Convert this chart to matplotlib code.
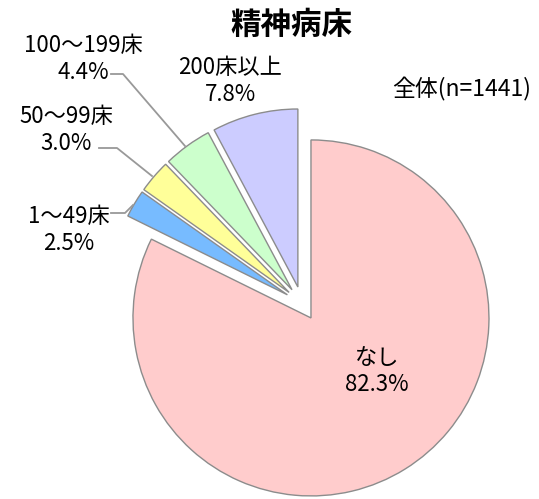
import numpy as np
import matplotlib.pyplot as plt

plt.rcParams['font.family'] = ['Noto Sans CJK JP', 'DejaVu Sans']

# data (clockwise from 12 o'clock)
categories = ['なし', '1～49床', '50～99床', '100～199床', '200床以上']
shares = [82.3, 2.5, 3.0, 4.4, 7.8]
colors = ['#FFCCCC', '#77BBFF', '#FFFF99', '#CCFFCC', '#CCCCFF']
title = '精神病床'
note = '全体(n=1441)'

W, H = 539, 499
fig = plt.figure(figsize=(W / 100, H / 100), dpi=100)
ax = fig.add_axes([0, 0, 1, 1])

# work in pixel-like coords, y up
def P(x, y):
    return x, H - y

cx, cy = P(302, 303.5)
ax.pie(shares, colors=colors, startangle=90, counterclock=False,
       radius=178, center=(cx, cy), explode=[17] * len(shares),
       wedgeprops=dict(edgecolor='#8C8C8C', linewidth=1.0))
ax.set_xlim(0, W)
ax.set_ylim(0, H)
ax.set_aspect('equal')
ax.axis('off')

# label positions (centre of the two-line block) and leader lines
label_pos = [(377, 371), (69, 230), (66, 130), (83, 59), (230, 81)]
leaders = [None,
           [(111, 213), (125, 213), (133, 205)],
           [(99, 148), (117, 148), (152, 176)],
           [(111, 74), (123, 74), (185, 146)],
           None]

for cat, val, pos, ld in zip(categories, shares, label_pos, leaders):
    x, y = P(*pos)
    ax.text(x, y, f'{cat}\n{val:.1f}%', ha='center', va='center',
            fontsize=16, linespacing=1.25, color='black')
    if ld:
        xs, ys = zip(*[P(a, b) for a, b in ld])
        ax.plot(xs, ys, color='#999999', lw=1.3)

ax.text(*P(291, 25), title, ha='center', va='center', fontsize=22,
        fontweight='bold')
ax.text(*P(462, 89), note, ha='center', va='center', fontsize=16.5)

fig.savefig('out.png', dpi=100)
